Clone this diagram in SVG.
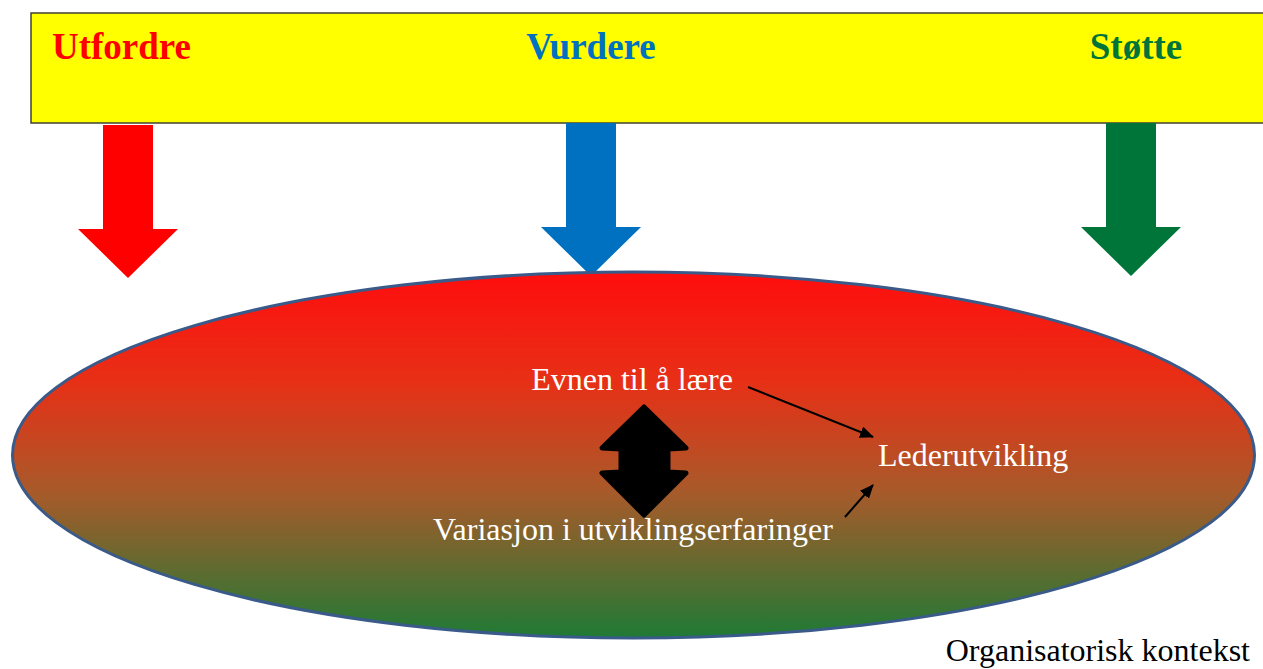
<svg xmlns="http://www.w3.org/2000/svg" width="1263" height="669" viewBox="0 0 1263 669">
<style>
.hdr{font-family:"Liberation Serif",serif;font-weight:bold;font-size:37px}
.lbl{font-family:"Liberation Serif",serif;font-size:32px;fill:#fff}
.conn{stroke:#000;stroke-width:2;fill:none}
</style>
<defs>
<linearGradient id="g" x1="0" y1="0" x2="0" y2="1">
<stop offset="0" stop-color="#ff0d0d"/>
<stop offset="0.3" stop-color="#e73016"/>
<stop offset="0.6" stop-color="#a85a2a"/>
<stop offset="1" stop-color="#1f7a35"/>
</linearGradient>
<marker id="ah2" markerWidth="14" markerHeight="12" refX="13" refY="6" orient="auto" markerUnits="userSpaceOnUse" viewBox="0 0 14 12">
<path d="M0,0 L14,6 L0,12 z" fill="#000"/>
</marker>
</defs>
<g id="header">
<rect x="31" y="13" width="1240" height="110" fill="#ffff00" stroke="#404033" stroke-width="1.5"/>
<text class="hdr" x="52" y="59" fill="#ff0000">Utfordre</text>
<text class="hdr" x="591" y="59" fill="#0070c0" text-anchor="middle">Vurdere</text>
<text class="hdr" x="1136" y="59" fill="#00753a" text-anchor="middle">Støtte</text>
</g>
<g id="arrow-red"><path d="M103,125 H153 V229 H178 L128,278 L78,229 H103 Z" fill="#ff0000"/></g>
<g id="arrow-blue"><path d="M566,123 H616 V227 H641 L591,276 L541,227 H566 Z" fill="#0070c0"/></g>
<g id="arrow-green"><path d="M1106,123 H1156 V227 H1181 L1131,276 L1081,227 H1106 Z" fill="#00753a"/></g>
<g id="context">
<ellipse cx="633.5" cy="455" rx="621" ry="183" fill="url(#g)" stroke="#3a5a8a" stroke-width="3"/>
</g>
<g id="evnen"><text class="lbl" x="632" y="390" text-anchor="middle">Evnen til å lære</text></g>
<g id="leder"><text class="lbl" x="878" y="466">Lederutvikling</text></g>
<g id="variasjon"><text class="lbl" x="633" y="540" text-anchor="middle">Variasjon i utviklingserfaringer</text></g>
<g id="double-arrow">
<path d="M644,407 L686,448 L668,449 L668,472 L686,473 L644,515 L602,473 L621,472 L621,449 L602,448 Z" fill="#000" stroke="#000" stroke-width="5" stroke-linejoin="round"/>
</g>
<g id="connectors">
<line class="conn" x1="748" y1="387" x2="873" y2="437" marker-end="url(#ah2)"/>
<line class="conn" x1="845" y1="517" x2="873" y2="485" marker-end="url(#ah2)"/>
</g>
<g id="org"><text x="1250" y="661" text-anchor="end" font-family="Liberation Serif, serif" font-size="32" fill="#000">Organisatorisk kontekst</text></g>
</svg>
